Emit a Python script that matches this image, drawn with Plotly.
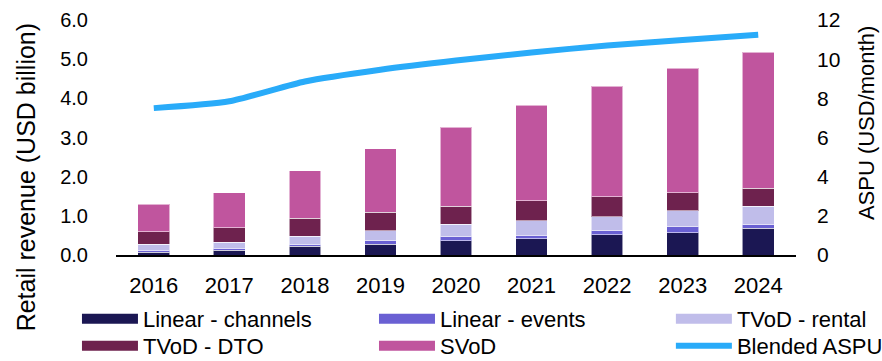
import plotly.graph_objects as go

years = ["2016", "2017", "2018", "2019", "2020", "2021", "2022", "2023", "2024"]
linear_channels = [0.07, 0.12, 0.22, 0.27, 0.37, 0.42, 0.52, 0.57, 0.68]
linear_events = [0.05, 0.05, 0.04, 0.10, 0.10, 0.09, 0.10, 0.15, 0.09]
tvod_rental = [0.16, 0.16, 0.22, 0.25, 0.31, 0.37, 0.36, 0.41, 0.47]
tvod_dto = [0.31, 0.36, 0.46, 0.47, 0.47, 0.51, 0.51, 0.46, 0.46]
svod = [0.71, 0.90, 1.21, 1.62, 2.01, 2.43, 2.82, 3.18, 3.48]
blended_aspu = [7.5, 7.85, 8.86, 9.46, 9.93, 10.34, 10.7, 10.98, 11.25]

series = [
    ("Linear - channels", linear_channels, "#1b1753", "legend"),
    ("Linear - events", linear_events, "#6a60d3", "legend2"),
    ("TVoD - rental", tvod_rental, "#c0bdea", "legend3"),
    ("TVoD - DTO", tvod_dto, "#6e224e", "legend4"),
    ("SVoD", svod, "#c0559e", "legend5"),
]

FONT = "Liberation Sans, Arial, sans-serif"
fig = go.Figure()
for name, vals, color, lg in series:
    fig.add_trace(go.Bar(
        x=years, y=vals, name=name, marker=dict(color=color, line=dict(color="rgba(255,255,255,0.55)", width=1)),
        showlegend=False, legendgroup=name, yaxis="y"))
    fig.add_trace(go.Scatter(
        x=[None], y=[None], mode="lines", name=name, legendgroup=name, legend=lg,
        line=dict(color=color, width=12), showlegend=True))

fig.add_trace(go.Scatter(
    x=years, y=blended_aspu, name="Blended ASPU", mode="lines", yaxis="y2", legend="legend6",
    line=dict(color="#29abf9", width=6, shape="spline", smoothing=0.6)))

leg_common = dict(orientation="v", yanchor="top", xanchor="left", itemwidth=56,
                  font=dict(family=FONT, size=22, color="#000"), bgcolor="rgba(0,0,0,0)",
                  tracegroupgap=0, itemclick=False, itemdoubleclick=False)
col_x = [-0.0574, 0.3794, 0.816]
row_y = [-0.183, -0.298]

fig.update_layout(
    width=882, height=361,
    margin=dict(l=116, r=86, t=20, b=106, autoexpand=False),
    paper_bgcolor="white", plot_bgcolor="white",
    barmode="stack", bargap=0.58,
    font=dict(family=FONT, size=21, color="#000"),
    xaxis=dict(showline=True, linecolor="#000", linewidth=2, ticks="", showgrid=False,
               tickfont=dict(size=22), ticklabelstandoff=10),
    yaxis=dict(range=[0, 6], dtick=1, tickformat=".1f", showgrid=False, zeroline=False,
               showline=False, ticks="", tickfont=dict(size=20), ticklabelstandoff=27),
    yaxis2=dict(range=[0, 12], dtick=2, overlaying="y", side="right", showgrid=False,
                zeroline=False, showline=False, ticks="", tickfont=dict(size=21), ticklabelstandoff=20),
    legend=dict(x=col_x[0], y=row_y[0], **leg_common),
    legend2=dict(x=col_x[1], y=row_y[0], **leg_common),
    legend3=dict(x=col_x[2], y=row_y[0], **leg_common),
    legend4=dict(x=col_x[0], y=row_y[1], **leg_common),
    legend5=dict(x=col_x[1], y=row_y[1], **leg_common),
    legend6=dict(x=col_x[2], y=row_y[1], **leg_common),
    annotations=[
        dict(text="Retail revenue (USD billion)", textangle=-90, xref="paper", yref="paper",
             x=-0.131, y=0.33, xanchor="center", yanchor="middle", showarrow=False,
             font=dict(size=25)),
        dict(text="ASPU (USD/month)", textangle=-90, xref="paper", yref="paper",
             x=1.104, y=0.56, xanchor="center", yanchor="middle", showarrow=False,
             font=dict(size=22)),
    ],
)
fig.write_html("out.html", config={"displayModeBar": False},
               post_script="document.body.style.margin='0';document.body.style.overflow='hidden';")
